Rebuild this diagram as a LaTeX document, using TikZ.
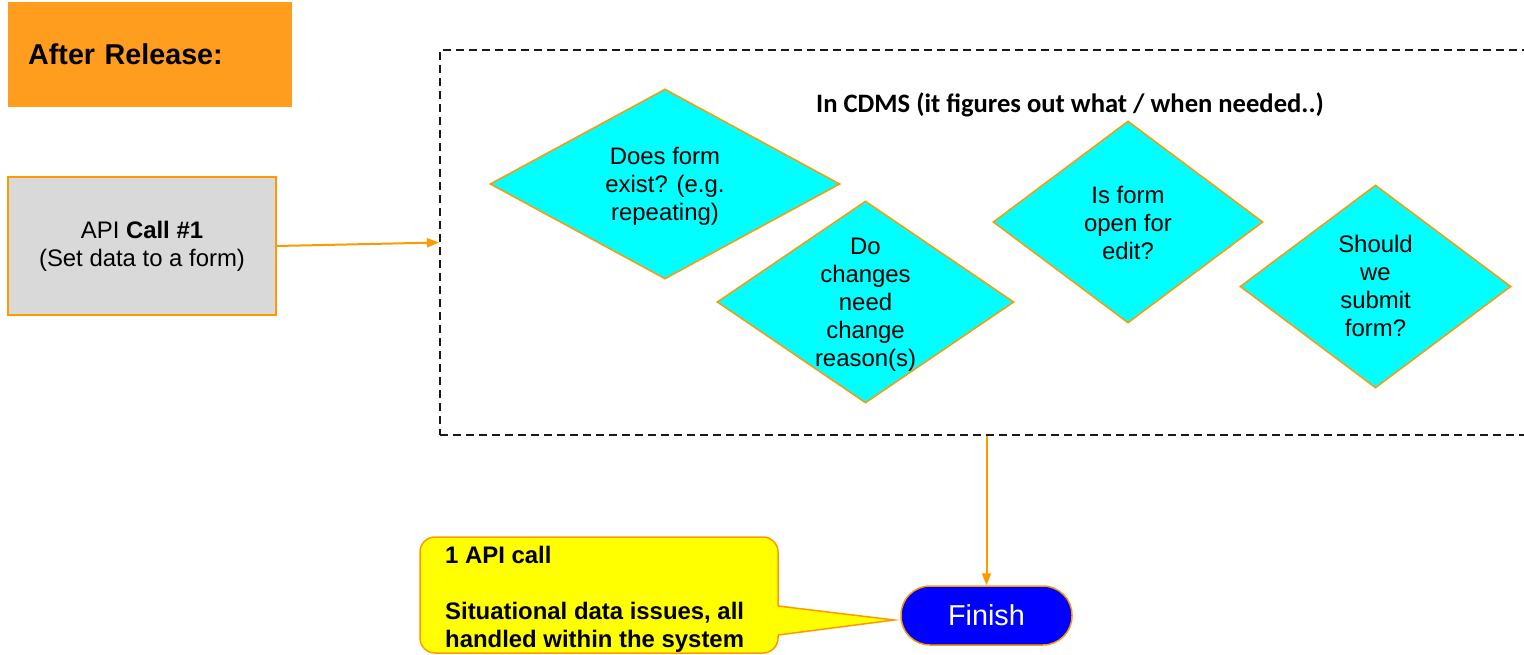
\documentclass[tikz,border=0pt]{standalone}
\usepackage{fontspec}
\setmainfont{Liberation Sans}
\newfontfamily\titlefont{Carlito}
\usetikzlibrary{shapes.geometric,calc,arrows.meta}
\definecolor{orfill}{HTML}{FF9E1E}
\definecolor{orline}{HTML}{FF9900}
\definecolor{grayfill}{HTML}{D9D9D9}
\definecolor{cyanfill}{HTML}{00FFFF}
\definecolor{bluefill}{HTML}{0000FF}
\definecolor{yellowfill}{HTML}{FFFF00}
\tikzset{
  txt/.style={font=\fontsize{23.9}{28}\selectfont, align=center, inner sep=0},
  decision/.style={diamond, draw=orline, line width=1.5pt, fill=cyanfill, inner sep=0},
  conn/.style={draw=orline, line width=2pt, -{Triangle[length=12pt,width=9pt]}},
  frame/.style={draw=black!90, line width=2pt, dash pattern=on 8pt off 5pt, inner sep=0},
}
\begin{document}
\begin{tikzpicture}[x=1pt,y=-1pt]
\useasboundingbox (0,0) rectangle (1524,654);
\clip (0,0) rectangle (1524,654);

% header
\node[fill=orfill, anchor=west, minimum height=105, text width=244, inner xsep=20, inner ysep=0,
      align=left, font=\fontsize{28.7}{32}\selectfont\bfseries] (hdr) at (8,54.5) {After Release:};

% API call box
\node[txt, draw=orline, line width=1.5pt, fill=grayfill, minimum width=268, minimum height=138] (api)
  at (142,246) {API \textbf{Call \#1}\\(Set data to a form)};

% CDMS container
\node[frame, minimum width=1100, minimum height=385] (cdms) at (990,242.5) {};
\node[anchor=base, inner sep=0, font=\titlefont\fontsize{26.6}{30}\selectfont\bfseries] (ttl)
  at (1070,112) {In CDMS (it figures out what / when needed..)};

% decisions
\node[decision, minimum width=350, minimum height=190] (d1) at (665,184) {};
\node[decision, minimum width=297, minimum height=202] (d2) at (865.5,302) {};
\node[decision, minimum width=270, minimum height=202] (d3) at (1128,222) {};
\node[decision, minimum width=271, minimum height=203] (d4) at (1375.5,286.5) {};
\node[txt] (t1) at (665,186.2) {Does form\\exist? (e.g.\\repeating)};
\node[txt] (t2) at (865.5,304.6) {Do\\changes\\need\\change\\reason(s)};
\node[txt] (t3) at (1128,222.6) {Is form\\open for\\edit?};
\node[txt] (t4) at (1375.5,285.9) {Should\\we\\submit\\form?};

% finish
\node[draw=orline, line width=1.5pt, fill=bluefill, rounded corners=29, minimum width=171,
      minimum height=59, inner sep=0, text=white, font=\fontsize{28.8}{32}\selectfont] (fin)
  at (986.5,615.5) {Finish};

% callout
\node[draw=orline, line width=1.5pt, fill=yellowfill, rounded corners=15, minimum width=358,
      minimum height=116, inner sep=0] (note) at (599,595) {};
\coordinate (pb1) at (778,606);
\coordinate (pb2) at (778,635);
\coordinate (tip) at ($(fin.west)+(-6,4.5)$);
\fill[yellowfill] ($(pb1)+(-2,0)$) -- (tip) -- ($(pb2)+(-2,0)$) -- cycle;
\draw[orline, line width=1.5pt, line join=miter] (pb1) -- (tip) -- (pb2);
\node[anchor=north west, align=left, inner sep=0, font=\fontsize{23.9}{28}\selectfont\bfseries] (notetxt)
  at (445,545.6) {1 API call\\[28pt]Situational data issues, all\\handled within the system};

% connectors
\draw[conn] (api.east) -- (cdms.west);
\draw[conn] (cdms.south -| fin.north) -- (fin.north);
\end{tikzpicture}
\end{document}
